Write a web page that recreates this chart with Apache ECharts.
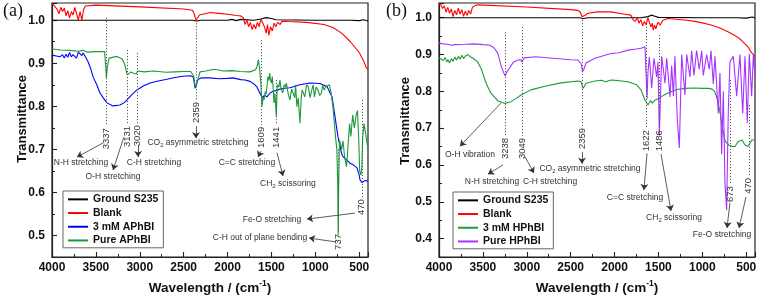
<!DOCTYPE html>
<html><head><meta charset="utf-8">
<script src="https://cdn.jsdelivr.net/npm/echarts@6/dist/echarts.min.js"></script>
<style>html,body{margin:0;padding:0;background:#fff}#c{width:757px;height:298px}</style>
</head><body><div id="c"></div>
<script>
// ---------- DATA (wavenumber cm-1, transmittance) ----------
const groundA = [[4000,1.0],[3500,1.0],[3000,1.0],[2400,1.0],[2355,0.998],[2300,1.0],[2000,1.0],[1950,1.002],[1900,0.999],[1850,1.002],[1700,1.0],[1620,1.003],[1560,1.006],[1500,1.004],[1450,1.001],[1000,1.0],[600,1.0],[500,0.999],[450,1.001],[400,0.998]];
const blankA = [[4000,1.04],[3980,1.035],[3960,1.03],[3940,1.025],[3920,1.015],[3900,1.03],[3880,1.02],[3860,1.028],[3840,1.01],[3820,1.022],[3800,1.005],[3780,1.02],[3760,1.012],[3740,1.03],[3720,1.015],[3700,1.0],[3680,1.02],[3660,1.0],[3640,1.025],[3620,1.033],[3600,1.036],[3500,1.035],[3000,1.031],[2500,1.026],[2400,1.023],[2380,1.015],[2360,1.0],[2340,1.004],[2320,1.012],[2300,1.016],[2200,1.018],[2100,1.016],[2000,1.014],[1900,1.011],[1850,1.01],[1820,1.006],[1800,0.99],[1780,1.0],[1760,0.985],[1740,0.995],[1720,0.978],[1700,0.99],[1680,0.98],[1660,0.995],[1640,0.985],[1620,1.003],[1600,1.004],[1580,0.985],[1560,0.97],[1545,0.99],[1530,0.965],[1510,0.985],[1490,0.975],[1470,0.993],[1450,0.985],[1430,0.995],[1400,0.99],[1380,0.998],[1300,0.997],[1100,0.995],[900,0.99],[800,0.983],[700,0.97],[600,0.95],[500,0.925],[450,0.905],[420,0.89],[400,0.885]];
const aphbi3mM = [[4000,0.919],[3950,0.917],[3910,0.915],[3880,0.92],[3860,0.912],[3840,0.921],[3820,0.914],[3800,0.925],[3780,0.915],[3760,0.92],[3740,0.924],[3720,0.912],[3700,0.926],[3680,0.928],[3660,0.918],[3645,0.924],[3620,0.915],[3590,0.904],[3560,0.888],[3533,0.869],[3490,0.85],[3453,0.831],[3410,0.818],[3373,0.808],[3305,0.801],[3225,0.803],[3180,0.808],[3146,0.815],[3090,0.827],[3032,0.838],[2960,0.847],[2884,0.854],[2790,0.859],[2690,0.863],[2600,0.867],[2508,0.87],[2420,0.871],[2390,0.868],[2370,0.842],[2355,0.85],[2337,0.862],[2300,0.866],[2200,0.866],[2100,0.864],[2000,0.865],[1938,0.866],[1850,0.862],[1800,0.861],[1744,0.858],[1700,0.852],[1665,0.845],[1630,0.83],[1600,0.82],[1580,0.826],[1551,0.822],[1517,0.831],[1480,0.835],[1437,0.837],[1403,0.84],[1350,0.842],[1289,0.843],[1175,0.85],[1061,0.854],[947,0.853],[867,0.846],[810,0.822],[776,0.776],[742,0.729],[700,0.69],[685,0.683],[640,0.675],[605,0.668],[560,0.663],[525,0.657],[500,0.64],[491,0.629],[470,0.623],[457,0.625],[430,0.628],[412,0.627],[400,0.626]];
const aphbiPure = [[4000,0.933],[3900,0.931],[3800,0.93],[3700,0.928],[3650,0.93],[3600,0.926],[3500,0.927],[3400,0.927],[3390,0.926],[3380,0.866],[3370,0.89],[3350,0.912],[3260,0.916],[3200,0.91],[3170,0.896],[3150,0.878],[3140,0.873],[3100,0.88],[3070,0.877],[3040,0.875],[3025,0.882],[2950,0.88],[2850,0.882],[2700,0.879],[2600,0.88],[2500,0.881],[2420,0.881],[2385,0.87],[2370,0.845],[2355,0.842],[2340,0.86],[2314,0.88],[2250,0.882],[2150,0.886],[2050,0.882],[1950,0.883],[1850,0.881],[1744,0.88],[1680,0.885],[1660,0.895],[1650,0.908],[1635,0.89],[1620,0.85],[1608,0.8],[1600,0.81],[1595,0.822],[1585,0.815],[1570,0.834],[1560,0.828],[1551,0.846],[1540,0.869],[1530,0.86],[1520,0.877],[1510,0.86],[1500,0.854],[1490,0.869],[1480,0.84],[1470,0.808],[1460,0.83],[1445,0.776],[1435,0.84],[1430,0.85],[1415,0.845],[1403,0.861],[1390,0.84],[1370,0.831],[1355,0.85],[1340,0.845],[1330,0.854],[1310,0.83],[1290,0.815],[1270,0.84],[1250,0.838],[1235,0.82],[1225,0.85],[1210,0.799],[1195,0.82],[1175,0.761],[1160,0.82],[1150,0.838],[1135,0.83],[1120,0.822],[1100,0.85],[1080,0.845],[1060,0.82],[1040,0.838],[1025,0.85],[1010,0.822],[990,0.845],[970,0.838],[950,0.825],[930,0.831],[915,0.85],[900,0.838],[880,0.846],[860,0.842],[840,0.85],[820,0.831],[800,0.8],[770,0.729],[755,0.7],[745,0.62],[740,0.5],[735,0.6],[725,0.722],[700,0.7],[685,0.72],[665,0.68],[645,0.66],[630,0.7],[610,0.76],[595,0.73],[575,0.78],[555,0.75],[535,0.78],[520,0.79],[505,0.72],[495,0.65],[480,0.64],[470,0.66],[460,0.73],[445,0.76],[430,0.74],[415,0.72],[400,0.7]];

const groundB = [[4000,1.0],[3000,1.0],[2400,1.0],[2360,0.998],[2300,1.0],[1700,1.0],[1620,1.003],[1580,1.007],[1540,1.004],[1500,1.001],[1000,1.0],[600,1.0],[500,0.999],[430,1.002],[400,0.999]];
const blankB = [[4000,1.04],[3977,1.035],[3960,1.025],[3940,1.032],[3920,1.015],[3900,1.028],[3880,1.012],[3860,1.024],[3840,1.003],[3820,1.02],[3800,1.008],[3780,1.026],[3760,1.01],[3740,1.022],[3720,1.004],[3700,1.018],[3680,1.006],[3660,1.02],[3640,1.01],[3620,1.028],[3590,1.033],[3556,1.035],[3000,1.029],[2500,1.022],[2417,1.02],[2390,1.015],[2371,1.003],[2340,1.006],[2303,1.012],[2200,1.016],[2041,1.016],[1900,1.01],[1813,1.007],[1790,0.995],[1767,0.99],[1740,1.0],[1720,0.985],[1700,0.995],[1680,0.978],[1660,0.99],[1640,0.98],[1620,1.0],[1600,1.002],[1585,0.975],[1570,0.985],[1560,0.966],[1545,0.98],[1530,0.97],[1505,0.988],[1480,0.98],[1450,0.993],[1391,0.998],[1300,0.996],[1200,0.994],[1084,0.99],[1000,0.986],[901,0.98],[800,0.972],[708,0.962],[630,0.952],[560,0.94],[480,0.921],[440,0.905],[423,0.9],[400,0.895]];
const hphbi3mM = [[4000,0.89],[3977,0.888],[3950,0.884],[3930,0.892],[3910,0.88],[3897,0.886],[3880,0.877],[3860,0.889],[3840,0.882],[3820,0.893],[3800,0.885],[3780,0.895],[3760,0.887],[3740,0.898],[3720,0.889],[3700,0.896],[3670,0.9],[3640,0.893],[3613,0.89],[3560,0.88],[3520,0.862],[3476,0.831],[3450,0.815],[3408,0.795],[3328,0.774],[3248,0.767],[3180,0.772],[3120,0.781],[3066,0.79],[2952,0.804],[2792,0.814],[2610,0.823],[2417,0.828],[2380,0.826],[2360,0.808],[2340,0.815],[2325,0.822],[2223,0.828],[2150,0.83],[2100,0.826],[2041,0.831],[1950,0.829],[1847,0.826],[1750,0.818],[1699,0.804],[1653,0.776],[1619,0.763],[1590,0.775],[1570,0.768],[1540,0.776],[1500,0.78],[1471,0.785],[1420,0.792],[1357,0.799],[1289,0.805],[1198,0.808],[1100,0.809],[992,0.808],[930,0.808],[890,0.806],[860,0.8],[830,0.78],[800,0.745],[770,0.7],[740,0.665],[700,0.654],[660,0.65],[628,0.65],[594,0.663],[548,0.668],[514,0.654],[480,0.65],[434,0.668],[400,0.668]];
const hphbiPure = [[4000,0.931],[3950,0.929],[3900,0.928],[3860,0.925],[3820,0.927],[3700,0.928],[3600,0.929],[3500,0.927],[3430,0.926],[3380,0.92],[3330,0.904],[3290,0.867],[3248,0.842],[3220,0.855],[3200,0.862],[3150,0.88],[3100,0.885],[3066,0.886],[3054,0.88],[3030,0.891],[2900,0.894],[2700,0.89],[2500,0.886],[2417,0.885],[2380,0.875],[2365,0.853],[2350,0.86],[2325,0.877],[2223,0.89],[2041,0.903],[1950,0.905],[1847,0.912],[1750,0.915],[1699,0.917],[1653,0.921],[1638,0.923],[1630,0.78],[1620,0.85],[1604,0.893],[1577,0.809],[1551,0.89],[1520,0.839],[1505,0.88],[1490,0.68],[1463,0.895],[1425,0.822],[1406,0.89],[1368,0.785],[1349,0.87],[1330,0.787],[1312,0.895],[1285,0.722],[1262,0.646],[1235,0.9],[1198,0.79],[1178,0.9],[1141,0.839],[1122,0.91],[1095,0.843],[1065,0.911],[1035,0.86],[1007,0.91],[989,0.843],[951,0.9],[921,0.86],[901,0.91],[875,0.82],[856,0.895],[818,0.74],[799,0.85],[780,0.63],[761,0.8],[742,0.55],[723,0.477],[704,0.75],[685,0.88],[647,0.895],[609,0.787],[571,0.9],[540,0.74],[514,0.895],[488,0.714],[465,0.902],[438,0.787],[419,0.9],[400,0.84]];

const xTickValues = [500,1000,1500,2000,2500,3000,3500,4000];
const yTickValuesA = [0.5,0.6,0.7,0.8,0.9,1.0];
const yTickValuesB = [0.4,0.5,0.6,0.7,0.8,0.9,1.0];
const namesA = ['Ground S235','Blank','3 mM APhBI','Pure APhBI'];
const namesB = ['Ground S235','Blank','3 mM HPhBI','Pure HPhBI'];

// peak marker lines: [wavenumber, top T, bottom T, label]
const peaksA = [[3380,1.005,0.754,'3337'],[3140,0.931,0.759,'3131'],[3025,0.924,0.761,'3020'],[2359,1.0,0.815,'2359'],[1612,0.954,0.757,'1609'],[1448,0.861,0.757,'1441'],[470,0.815,0.589,'470'],[742,0.7,0.508,'737']];
const peaksB = [[3240,0.961,0.679,'3238'],[3054,0.975,0.679,'3049'],[2365,0.994,0.706,'2359'],[1634,0.975,0.7,'1622'],[1486,0.953,0.7,'1486'],[685,0.831,0.548,'673'],[470,0.763,0.57,'470']];
// assignment texts: [wavenumber, T, text]
const notesA = [[3670,0.668,'N-H stretching'],[3305,0.636,'O-H stretching'],[2838,0.668,'C-H stretching'],[2337,0.715,'{t|CO}{u|2}{t| asymmetric stretching}'],[1779,0.668,'C=C stretching'],[1312,0.62,'{t|CH}{u|2}{t| scissoring}'],[1494,0.536,'Fe-O stretching'],[1630,0.496,'C-H out of plane bending']];
const notesB = [[3647,0.627,'O-H vibration'],[3396,0.556,'N-H stretching'],[2735,0.556,'C-H stretching'],[2280,0.589,'{t|CO}{u|2}{t| asymmetric stretching}'],[1767,0.51,'C=C stretching'],[1323,0.456,'{t|CH}{u|2}{t| scissoring}'],[776,0.41,'Fe-O stretching']];
// arrows: [w1,t1,w2,t2]
const arrowsA = [[3419,0.715,3715,0.682],[3180,0.729,3305,0.652],[3020,0.71,3020,0.682],[2360,0.754,2360,0.726],[1619,0.696,1653,0.682],[1437,0.692,1368,0.638],[548,0.552,1095,0.538],[765,0.485,1072,0.494]];
const arrowsB = [[3294,0.768,3761,0.651],[3271,0.6,3442,0.575],[3020,0.622,2918,0.578],[2371,0.635,2371,0.603],[1630,0.632,1665,0.532],[1471,0.63,1357,0.475],[685,0.497,719,0.429],[503,0.513,582,0.429]];

// ---------- CHART ----------
const FONT = '"Liberation Sans", Arial, sans-serif';
const colors = ['#000000','#ff0000','#0000ff','#1a9a3a'];
const colorsB = ['#000000','#ff0000','#1a9a3a','#a833ff'];

function xAxis(gi){
  return {type:'value', gridIndex:gi, inverse:true, min:400, max:4000, splitNumber:7,
    axisLine:{show:true, onZero:false, lineStyle:{color:'#222', width:1.2}},
    axisTick:{show:true, inside:true, length:5, lineStyle:{color:'#222', width:1.1}},
    minorTick:{show:true, splitNumber:2, length:3, lineStyle:{color:'#222', width:1}},
    axisLabel:{showMinLabel:false, margin:5, color:'#111', fontWeight:'bold', fontSize:12, fontFamily:FONT,
      formatter:v => xTickValues.includes(v) ? String(v) : ''},
    splitLine:{show:false}};
}
function yAxis(gi, min, ticks){
  return {type:'value', gridIndex:gi, min:min, max:1.04, splitNumber:7,
    axisLine:{show:true, onZero:false, lineStyle:{color:'#222', width:1.2}},
    axisTick:{show:true, inside:true, length:5, lineStyle:{color:'#222', width:1.1}},
    minorTick:{show:true, splitNumber:2, length:3, lineStyle:{color:'#222', width:1}},
    axisLabel:{showMinLabel:false, showMaxLabel:false, margin:7, color:'#111', fontWeight:'bold', fontSize:12, fontFamily:FONT,
      formatter:v => ticks.some(t => Math.abs(t-v)<1e-6) ? v.toFixed(1) : ''},
    splitLine:{show:false}};
}
function line(name, data, color, gi, extra){
  return Object.assign({type:'line', name, data, xAxisIndex:gi, yAxisIndex:gi, symbol:'none', showSymbol:false,
    lineStyle:{color, width:1.1}, itemStyle:{color}, animation:false, z:2, clip:true}, extra||{});
}
function peakLines(peaks){
  return {silent:true, symbol:'none', animation:false, label:{show:false},
    lineStyle:{color:'#555', type:[1.2,1.8], width:1},
    data: peaks.map(p => [{coord:[p[0],p[1]]},{coord:[p[0],p[2]]}])};
}
function arrowLines(arrs){
  return {silent:true, symbol:['none','arrow'], symbolSize:6, animation:false, label:{show:false},
    lineStyle:{color:'#333', type:'solid', width:0.8},
    data: arrs.map(a => [{coord:[a[0],a[1]]},{coord:[a[2],a[3]]}])};
}
function legend(names, left, top){
  return {data:names, orient:'vertical', left, top, icon:'rect', itemWidth:20, itemHeight:2, itemGap:1,
    padding:[2,5,1,5], borderColor:'#666', borderWidth:1, backgroundColor:'#fff',
    textStyle:{fontWeight:'bold', fontSize:10.5, lineHeight:12.7, color:'#111', fontFamily:FONT}, selectedMode:false};
}

const option = {
  animation:false,
  backgroundColor:'#fff',
  grid:[
    {left:52, right:389, top:3, bottom:41, outerBoundsMode:'none', containLabel:false, show:true, borderColor:'#222', borderWidth:1.2, backgroundColor:'transparent'},
    {left:439, right:2, top:3, bottom:41, outerBoundsMode:'none', containLabel:false, show:true, borderColor:'#222', borderWidth:1.2, backgroundColor:'transparent'}
  ],
  xAxis:[xAxis(0), xAxis(1)],
  yAxis:[yAxis(0,0.45,yTickValuesA), yAxis(1,0.35,yTickValuesB)],
  legend:[legend(namesA,63,191), legend(namesB,453,192)],
  series:[
    line(namesA[0], groundA, colors[0], 0, {markLine:peakLines(peaksA)}),
    line(namesA[1], blankA, colors[1], 0, {markLine:arrowLines(arrowsA)}),
    line(namesA[2], aphbi3mM, colors[2], 0),
    line(namesA[3], aphbiPure, colors[3], 0),
    line(namesB[0], groundB, colorsB[0], 1, {markLine:peakLines(peaksB)}),
    line(namesB[1], blankB, colorsB[1], 1, {markLine:arrowLines(arrowsB)}),
    line(namesB[2], hphbi3mM, colorsB[2], 1),
    line(namesB[3], hphbiPure, colorsB[3], 1)
  ]
};

const chart = echarts.init(document.getElementById('c'), null, {renderer:'canvas'});
chart.setOption(option);

const gfx = [];
const noteRich = {t:{fontSize:8.5, fontFamily:FONT, fill:'#333', color:'#333', verticalAlign:'middle', lineHeight:11},
                  u:{fontSize:6, fontFamily:FONT, fill:'#333', color:'#333', verticalAlign:'bottom', lineHeight:11}};
function addPeaks(gi, peaks){
  peaks.forEach(p => {
    const pt = chart.convertToPixel({gridIndex:gi}, [p[0], p[2]]);
    gfx.push({type:'text', x:pt[0], y:pt[1]+2, rotation:Math.PI/2, silent:true, z:10,
      style:{text:p[3], align:'right', verticalAlign:'middle', fontSize:9.5, fontFamily:FONT, fill:'#333'}});
  });
}
function addNotes(gi, notes){
  notes.forEach(n => {
    const pt = chart.convertToPixel({gridIndex:gi}, [n[0], n[1]]);
    const isRich = n[2].indexOf('{') === 0;
    gfx.push({type:'text', x:pt[0], y:pt[1], silent:true, z:10,
      style: isRich ? {text:n[2], rich:noteRich, align:'center', verticalAlign:'middle', fontSize:8.5, fontFamily:FONT, fill:'#333'}
                    : {text:n[2], align:'center', verticalAlign:'middle', fontSize:8.5, fontFamily:FONT, fill:'#333'}});
  });
}
addPeaks(0, peaksA); addPeaks(1, peaksB);
addNotes(0, notesA); addNotes(1, notesB);

[[0,'(a)',3],[1,'(b)',386]].forEach(([gi,txt,x]) => {
  gfx.push({type:'text', x:x, y:2, silent:true, style:{text:txt, fontSize:18, fontFamily:'"Liberation Serif", "Times New Roman", serif', fill:'#111', align:'left', verticalAlign:'top'}});
});
[[22,119],[405,121]].forEach(([x,y]) => {
  gfx.push({type:'text', x, y, rotation:Math.PI/2, silent:true,
    style:{text:'Transmittance', fontSize:13, fontWeight:'bold', fontFamily:FONT, fill:'#111', align:'center', verticalAlign:'middle'}});
});
[210,597].forEach(x => {
  gfx.push({type:'text', x, y:287, silent:true,
    style:{text:'{a|Wavelength / (cm}{s|-1}{a|)}', align:'center', verticalAlign:'middle',
      rich:{a:{fontSize:13.5, fontWeight:'bold', fontFamily:FONT, fill:'#111', color:'#111', verticalAlign:'bottom', lineHeight:16},
            s:{fontSize:8.5, fontWeight:'bold', fontFamily:FONT, fill:'#111', color:'#111', verticalAlign:'top', lineHeight:16}}}});
});
chart.setOption({graphic:gfx});
</script></body></html>
